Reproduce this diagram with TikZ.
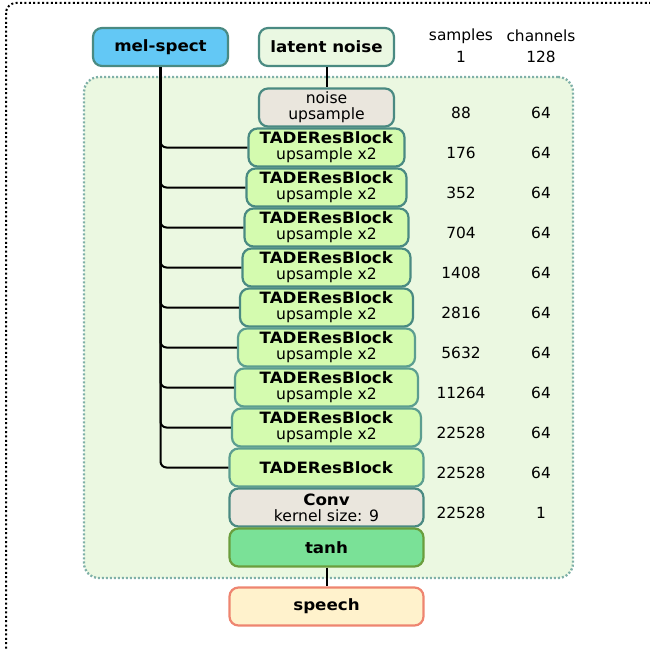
\documentclass[tikz,border=0pt]{standalone}
\usepackage{fontspec}
\setmainfont{DejaVu Sans}[BoldFeatures={FakeStretch=1.07}]
\definecolor{tealb}{HTML}{4A8A82}
\definecolor{tealc}{HTML}{5C9E90}
\definecolor{melfill}{HTML}{63C8F5}
\definecolor{latfill}{HTML}{EAF8E2}
\definecolor{bigfill}{HTML}{EBF8E1}
\definecolor{bigdraw}{HTML}{7FB0A8}
\definecolor{beige}{HTML}{EAE6DD}
\definecolor{tadefill}{HTML}{D4FBAF}
\definecolor{tanhfill}{HTML}{7AE197}
\definecolor{tanhdraw}{HTML}{6A9E3D}
\definecolor{speechfill}{HTML}{FFF2CC}
\definecolor{speechdraw}{HTML}{EE8570}
\begin{document}
\begin{tikzpicture}[x=1pt,y=-1pt,
  base/.style={draw=tealb, line width=2.2pt, rounded corners=9pt, minimum height=38pt,
    inner sep=0pt, align=center, font=\fontsize{15.6}{16}\selectfont},
  tade/.style={base, fill=tadefill},
  grey/.style={base, fill=beige},
  num/.style={font=\fontsize{15.4}{16}\selectfont, inner sep=0pt},
  conn/.style={line width=2pt, black},
  branch/.style={conn, rounded corners=6pt}]
\useasboundingbox (0,0) rectangle (649,650);
\draw[line width=2pt, dash pattern=on 2pt off 2.4pt, rounded corners=10pt] (6,3) rectangle (660,660);
\node[draw=bigdraw, fill=bigfill, line width=2.3pt, dash pattern=on 2pt off 2pt, rounded corners=15pt,
  minimum width=489pt, minimum height=501pt, inner sep=0pt] (big) at (328.5,327.5) {};
\node[base, fill=melfill, minimum width=135pt] (mel) at (160.5,47) {\textbf{mel-spect}};
\node[base, fill=latfill, minimum width=135pt] (lat) at (326.5,47) {\textbf{latent noise}};
\node[grey, minimum width=135pt] (nu) at (326.5,107.5) {noise\\upsample};
\node[tade, minimum width=156pt] (b1) at (326.5,147.5) {\textbf{TADEResBlock}\\upsample x2};
\node[tade, minimum width=160pt] (b2) at (326.5,187.5) {\textbf{TADEResBlock}\\upsample x2};
\node[tade, minimum width=164pt] (b3) at (326.5,227.5) {\textbf{TADEResBlock}\\upsample x2};
\node[tade, minimum width=168pt] (b4) at (326.5,267.5) {\textbf{TADEResBlock}\\upsample x2};
\node[tade, minimum width=173pt] (b5) at (326.5,307.5) {\textbf{TADEResBlock}\\upsample x2};
\node[tade, minimum width=177pt, draw=tealc] (b6) at (326.5,347.5) {\textbf{TADEResBlock}\\upsample x2};
\node[tade, minimum width=183pt, draw=tealc] (b7) at (326.5,387.5) {\textbf{TADEResBlock}\\upsample x2};
\node[tade, minimum width=189pt, draw=tealc] (b8) at (326.5,427.5) {\textbf{TADEResBlock}\\upsample x2};
\node[tade, minimum width=194pt, draw=tealc] (b9) at (326.5,467.5) {\textbf{TADEResBlock}};
\node[grey, minimum width=194pt] (conv) at (326.5,507.5) {\textbf{Conv}\\kernel size: 9};
\node[base, fill=tanhfill, draw=tanhdraw, minimum width=194pt] (tanh) at (326.5,547.5) {\textbf{tanh}};
\node[base, fill=speechfill, draw=speechdraw, minimum width=194pt] (sp) at (326.5,606.5) {\textbf{speech}};
\draw[conn] (lat.south) -- (nu.north);
\draw[conn] (tanh.south) -- (sp.north);
\foreach \b in {b1,b2,b3,b4,b5,b6,b7,b8,b9} \draw[branch] (mel.south) |- (\b.west);
\node[num] (hs) at (461,36) {samples};
\node[num] (hc) at (541,36) {channels};
\node[num] (s0) at (461,57) {1};
\node[num] (c0) at (541,57) {128};
\foreach \s/\c [count=\i from 0] in {88/64,176/64,352/64,704/64,1408/64,2816/64,5632/64,11264/64,22528/64,22528/64,22528/1}
  { \node[num] (s\i x) at (461,113+40*\i) {\s}; \node[num] (c\i x) at (541,113+40*\i) {\c}; }
\end{tikzpicture}
\end{document}
